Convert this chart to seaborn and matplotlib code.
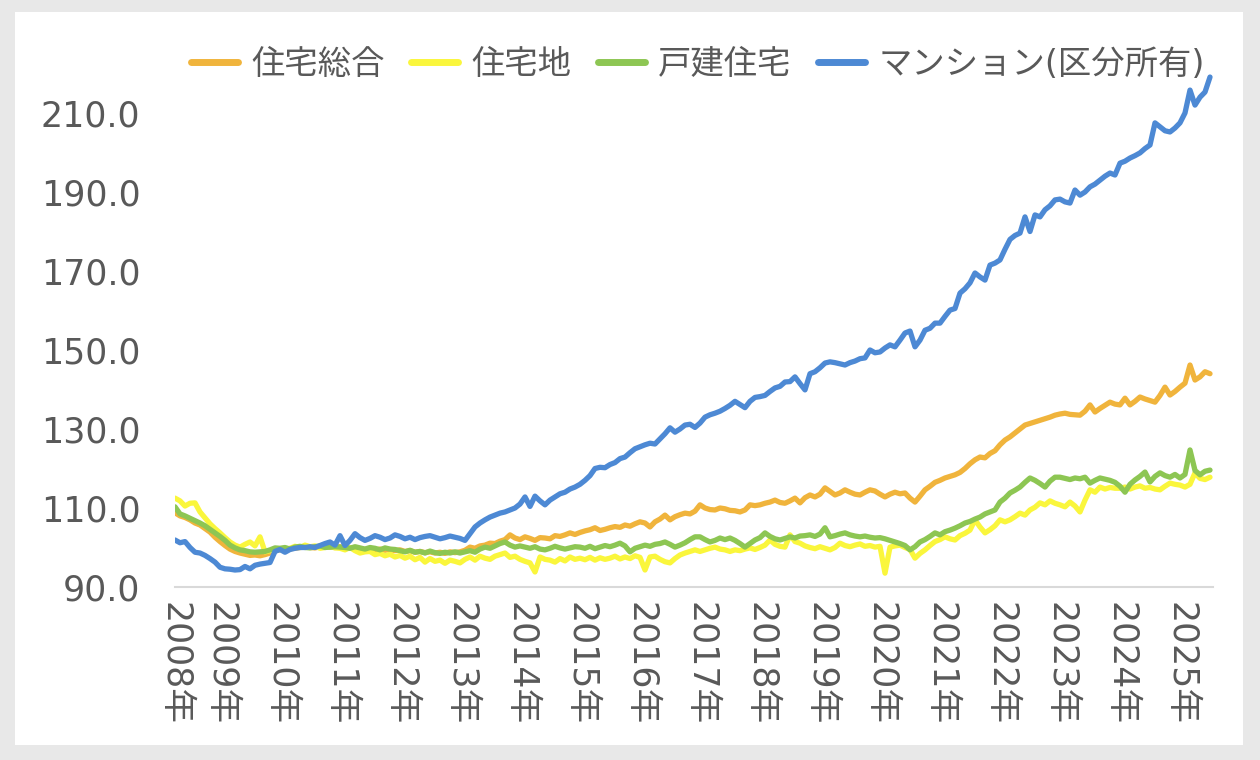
import numpy as np
import pandas as pd
import matplotlib
matplotlib.use('Agg')
import matplotlib.pyplot as plt
from matplotlib.patches import Rectangle
import seaborn as sns

# 不動産価格指数（住宅）, monthly, 2008-04 .. 2025-07 (2010 avg = 100)
series_names = ['住宅総合', '住宅地', '戸建住宅', 'マンション(区分所有)']
series_colors = ['#F0B43C', '#FAF63C', '#8DC653', '#4D89D4']

start_month = '2008-04'
year_labels = [f'{y}年' for y in range(2008, 2026)]

sougou = [
    108.8, 108.0, 107.6, 107.0, 106.2, 105.7, 104.8, 103.9, 102.6,                 # 2008
    101.5, 100.5, 99.6, 99.0, 98.6, 98.3, 98.0, 98.1, 97.9, 98.2, 98.6, 99.2,       # 2009
    99.4, 99.5, 99.7, 99.8, 100.0, 100.1, 100.0, 99.9, 100.2, 100.3, 100.1, 100.0,  # 2010
    100.2, 99.8, 99.9, 100.0, 99.6, 99.5, 99.7, 99.4, 99.6, 99.3, 99.5, 99.2,       # 2011
    99.4, 99.0, 99.2, 98.8, 99.0, 98.7, 98.9, 98.6, 98.8, 98.5, 98.9, 98.7,         # 2012
    98.9, 99.3, 100.1, 99.8, 100.4, 100.6, 101.1, 101.0, 101.6, 102.0, 103.2, 102.4,  # 2013
    102.0, 102.7, 102.3, 101.8, 102.5, 102.4, 102.2, 103.0, 102.8, 103.2, 103.7, 103.3,  # 2014
    103.8, 104.2, 104.5, 105.0, 104.3, 104.6, 105.0, 105.3, 105.1, 105.7, 105.4, 106.0,  # 2015
    106.5, 106.2, 105.2, 106.5, 107.2, 108.2, 107.0, 107.8, 108.3, 108.7, 108.5, 109.2,  # 2016
    110.8, 110.0, 109.6, 109.5, 110.0, 109.8, 109.4, 109.3, 109.0, 109.5, 110.8, 110.6,  # 2017
    110.8, 111.2, 111.5, 112.0, 111.4, 111.2, 111.8, 112.5, 111.3, 112.6, 113.3, 112.8,  # 2018
    113.5, 115.1, 114.2, 113.3, 113.8, 114.6, 114.0, 113.5, 113.3, 114.0, 114.6, 114.3,  # 2019
    113.5, 112.8, 113.5, 114.0, 113.6, 113.8, 112.5, 111.5, 113.0, 114.6, 115.5, 116.5,  # 2020
    117.0, 117.6, 118.0, 118.4, 119.0, 120.0, 121.2, 122.2, 122.9, 122.7, 123.8, 124.5,  # 2021
    126.0, 127.2, 128.0, 129.0, 130.0, 131.0, 131.4, 131.8, 132.2, 132.6, 133.0, 133.5,  # 2022
    133.8, 134.0, 133.7, 133.6, 133.5, 134.5, 136.1, 134.3, 135.2, 136.0, 136.8, 136.3,  # 2023
    136.1, 137.8, 136.1, 137.0, 138.1, 137.6, 137.2, 136.8, 138.5, 140.6, 138.6, 139.5,  # 2024
    140.6, 141.6, 146.2, 142.4, 143.2, 144.5, 144.0,                                # 2025
]

juutakuchi = [
    112.5, 111.8, 110.5, 111.2, 111.3, 109.0, 107.5, 106.0, 104.8,
    103.7, 102.5, 101.4, 100.6, 100.1, 100.8, 101.4, 100.4, 102.7, 98.9, 99.2, 99.4,
    99.6, 99.2, 99.8, 100.3, 100.0, 100.6, 100.2, 100.4, 99.8, 100.0, 100.3, 99.9,
    99.8, 99.4, 100.0, 99.2, 98.6, 98.9, 99.0, 98.2, 98.5, 97.9, 98.3, 97.6,
    98.0, 97.3, 97.8, 96.9, 97.5, 96.3, 97.2, 96.5, 96.8, 96.0, 96.8, 96.5,
    96.1, 97.0, 97.6, 96.8, 97.8, 97.3, 97.0, 97.8, 98.2, 98.6, 97.5, 97.8,
    97.0, 96.5, 96.1, 93.8, 97.6, 97.0, 96.8, 96.3, 97.2, 96.6, 97.6, 97.0,
    97.3, 96.9, 97.5, 96.8, 97.4, 97.0, 97.3, 97.8, 97.1, 97.6, 97.2, 97.9,
    97.5, 94.3, 97.6, 97.8, 97.0, 96.4, 96.1, 97.2, 98.1, 98.6, 99.0, 99.4,
    99.0, 99.4, 99.8, 100.1, 99.6, 99.4, 99.0, 99.4, 99.2, 99.6, 99.9, 99.5,
    100.0, 100.6, 101.9, 100.8, 100.3, 100.1, 103.2, 101.5, 101.1, 100.4, 100.0, 99.7,
    100.2, 99.8, 99.4, 100.0, 101.1, 100.5, 100.2, 100.6, 100.9, 100.3, 100.5, 100.1,
    100.3, 93.5, 100.1, 100.4, 100.6, 100.0, 99.5, 97.3, 98.5, 99.4, 100.5, 101.5,
    102.0, 102.7, 102.2, 101.9, 103.0, 103.6, 104.4, 107.0, 105.2, 103.7, 104.5, 105.5,
    107.0, 106.5, 107.0, 107.8, 108.7, 108.2, 109.5, 110.2, 111.3, 110.8, 111.8, 111.2,
    110.8, 110.3, 111.5, 110.5, 109.0, 112.0, 114.6, 114.0, 115.3, 114.8, 115.2, 115.0,
    115.0, 115.3, 114.8, 115.3, 115.6, 115.0, 115.2, 114.8, 114.6, 115.5, 116.3, 116.0,
    115.8, 115.3, 116.0, 118.9, 117.5, 117.2, 117.8,
]

kodate = [
    110.3, 108.5, 108.0, 107.4, 106.8, 106.2, 105.5, 104.6, 103.7,
    102.8, 101.8, 100.6, 99.9, 99.4, 99.2, 98.9, 98.8, 98.9, 99.0, 99.4, 99.9,
    99.8, 100.0, 99.6, 100.1, 100.3, 100.0, 99.9, 100.2, 100.4, 100.0, 100.1, 100.2,
    100.1, 100.0, 99.8, 100.2, 99.9, 99.6, 100.0, 99.8, 99.4, 99.9, 99.6, 99.5,
    99.2, 98.9, 99.3, 98.8, 99.0, 98.6, 99.1, 98.7, 98.5, 98.8, 98.6, 98.9,
    98.6, 98.9, 99.2, 98.8, 99.6, 100.1, 99.8, 100.4, 101.0, 101.4, 100.6, 100.1,
    100.4, 100.1, 99.8, 100.2, 99.6, 99.4, 99.8, 100.3, 99.9, 99.6, 99.9, 100.2,
    100.1, 99.8, 100.3, 99.7, 100.1, 100.5, 100.2, 100.6, 101.1, 100.4, 98.9, 99.8,
    100.2, 100.6, 100.3, 100.8, 101.0, 101.4, 100.8, 100.1, 100.6, 101.2, 102.0, 102.7,
    102.7, 102.0, 101.4, 101.8, 102.4, 102.0, 102.4, 101.8, 101.0, 100.1, 101.0, 101.9,
    102.5, 103.7, 102.8, 102.2, 101.9, 102.3, 102.7, 102.4, 102.9, 103.0, 103.2, 102.8,
    103.4, 105.0, 102.7, 103.0, 103.4, 103.7, 103.2, 102.9, 102.7, 102.9, 102.6, 102.4,
    102.5, 102.2, 101.8, 101.4, 101.0, 100.5, 99.4, 100.2, 101.4, 102.0, 102.8, 103.7,
    103.2, 104.0, 104.4, 104.9, 105.5, 106.2, 106.6, 107.2, 107.7, 108.5, 109.0, 109.5,
    111.5, 112.5, 113.8, 114.5, 115.3, 116.5, 117.6, 117.0, 116.2, 115.3, 116.8, 117.8,
    117.8, 117.5, 117.2, 117.6, 117.4, 117.8, 116.3, 117.0, 117.6, 117.3, 117.0, 116.5,
    115.5, 114.0, 116.0, 117.1, 118.0, 119.1, 116.6, 118.0, 118.9, 118.2, 117.8, 118.5,
    117.6, 118.5, 124.7, 119.5, 118.4, 119.3, 119.6,
]

mansion = [
    101.9, 101.2, 101.5, 100.0, 98.8, 98.6, 98.0, 97.2, 96.3,
    95.0, 94.6, 94.5, 94.3, 94.4, 95.2, 94.6, 95.5, 95.8, 96.0, 96.2, 99.0,
    99.5, 98.8, 99.5, 99.8, 100.0, 100.0, 100.2, 100.0, 100.5, 101.0, 101.4, 100.6,
    103.0, 100.5, 101.8, 103.5, 102.5, 101.8, 102.3, 103.0, 102.6, 102.0, 102.4, 103.2,
    102.8, 102.2, 102.6, 102.0, 102.5, 102.8, 103.0, 102.6, 102.2, 102.5, 102.9, 102.6,
    102.3, 101.8, 103.5, 105.2, 106.2, 107.0, 107.7, 108.2, 108.7, 109.0, 109.5, 110.0,
    111.0, 112.8, 110.4, 113.0, 111.8, 110.8, 112.0, 112.8, 113.6, 114.0, 114.8, 115.3,
    116.0, 117.0, 118.2, 120.0, 120.3, 120.2, 121.0, 121.5, 122.5, 122.9, 124.0, 125.0,
    125.5, 126.0, 126.4, 126.2, 127.5, 128.8, 130.3, 129.2, 130.0, 131.0, 131.2, 130.4,
    131.5, 133.0, 133.6, 134.0, 134.5, 135.2, 136.0, 137.0, 136.2, 135.4, 137.0, 138.0,
    138.2, 138.5, 139.5, 140.4, 140.8, 141.9, 142.0, 143.2, 141.5, 139.9, 144.0, 144.5,
    145.5, 146.7, 147.0, 146.8, 146.5, 146.2, 146.8, 147.2, 147.8, 148.0, 150.0, 149.3,
    149.5, 150.5, 151.3, 150.8, 152.5, 154.3, 154.8, 150.8, 152.5, 155.0, 155.5, 156.8,
    156.8, 158.5, 160.1, 160.5, 164.4, 165.5, 167.0, 169.5, 168.5, 167.7, 171.5, 172.0,
    172.8, 175.5, 178.0, 179.0, 179.6, 183.7, 180.0, 184.2, 183.7, 185.5, 186.5, 188.0,
    188.2, 187.5, 187.2, 190.5, 189.2, 190.0, 191.3, 192.0, 193.0, 194.0, 194.8, 194.3,
    197.3, 197.8, 198.6, 199.2, 199.9, 201.0, 201.9, 207.5, 206.5, 205.5, 205.2, 206.2,
    207.5, 210.0, 215.8, 212.0, 214.0, 215.3, 219.1,
]

y_ticks = [90, 110, 130, 150, 170, 190, 210]

# long-form frame for seaborn
n = len(mansion)
months = pd.date_range(start_month, periods=n, freq='MS')
frames = []
for name, vals in zip(series_names, [sougou, juutakuchi, kodate, mansion]):
    frames.append(pd.DataFrame({'pos': np.arange(n), 'month': months,
                                'value': vals, 'series': name}))
df = pd.concat(frames, ignore_index=True)

sns.set_theme(style='white')
plt.rcParams['font.family'] = ['DejaVu Sans', 'Noto Sans CJK JP']

W, H = 1260, 760
fig = plt.figure(figsize=(W / 100, H / 100), dpi=100)
fig.patch.set_facecolor('#E8E8E8')
# white card behind the chart
fig.patches.append(Rectangle((15 / W, 1 - 745 / H), (1243 - 15) / W, (745 - 12) / H,
                             transform=fig.transFigure, facecolor='white',
                             edgecolor='none', zorder=-10))

ax_left, ax_right = 175 / W, 1213 / W
ax_bottom, ax_top = 1 - 587 / H, 1 - 73.5 / H
ax = fig.add_axes([ax_left, ax_bottom, ax_right - ax_left, ax_top - ax_bottom])
ax.set_facecolor('none')
ax.set_zorder(1)

sns.lineplot(data=df, x='pos', y='value', hue='series', hue_order=series_names,
             palette=series_colors, linewidth=3.8, ax=ax, legend=True)

ax.set_xlim(0, n - 1 + 0.6)
ax.set_ylim(90, 220)
ax.set_yticks(y_ticks)
ax.set_yticklabels([f'{v:.1f}' for v in y_ticks])

# year labels: first month shown, then every January
tick_pos = [0] + [i for i, m in enumerate(months) if m.month == 1]
ax.set_xticks(tick_pos)
ax.set_xticklabels(year_labels, rotation=270, va='top', ha='center')

text_color = '#595959'
ax.tick_params(axis='y', length=0, pad=25, labelsize=25, labelcolor=text_color)
ax.tick_params(axis='x', length=0, pad=11, labelsize=25, labelcolor=text_color)
ax.set_xlabel('')
ax.set_ylabel('')

for side in ['left', 'right', 'top']:
    ax.spines[side].set_visible(False)
ax.spines['bottom'].set_color('#D9D9D9')
ax.spines['bottom'].set_linewidth(1.5)

handles, labels = ax.get_legend_handles_labels()
leg = ax.legend(handles, labels, ncol=4, frameon=False, loc='upper center',
                bbox_to_anchor=(698 / W, 1 - 18 / H), bbox_transform=fig.transFigure,
                fontsize=24, handlelength=1.4, handletextpad=0.4, columnspacing=0.8,
                labelcolor=text_color)
for line in leg.get_lines():
    line.set_linewidth(5)

fig.savefig('out.png', dpi=100, facecolor=fig.get_facecolor())
